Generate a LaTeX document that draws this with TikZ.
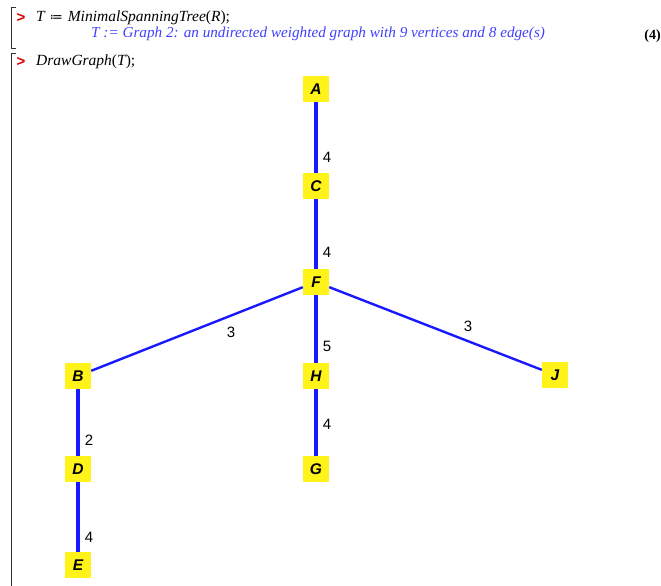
\documentclass[tikz,border=0pt]{standalone}
\usepackage{fontspec}
\setmainfont{Liberation Serif}
\setsansfont{Liberation Sans}
\newfontfamily\symfont{DejaVu Sans}
\newcommand{\up}[1]{{\upshape #1}}
\begin{document}
\begin{tikzpicture}[x=1pt,y=-1pt,
  vtx/.style={fill=yellow!90!white, minimum width=26pt, minimum height=26pt, inner sep=0pt,
     font=\sffamily\bfseries\itshape\fontsize{15.5}{15.5}\selectfont},
  edge/.style={draw=blue!90!white, line width=4pt},
  dedge/.style={draw=blue!90!white, line width=2.4pt},
  wlab/.style={font=\sffamily\fontsize{15}{15}\selectfont, inner sep=0pt},
  prompt/.style={font=\sffamily\bfseries\fontsize{15}{15}\selectfont, text=red!85!black, inner sep=0pt},
  maple/.style={font=\itshape\fontsize{15.5}{15.5}\selectfont, inner sep=0pt, anchor=west},
  mapleout/.style={font=\itshape\fontsize{15.2}{15.2}\selectfont, inner sep=0pt, anchor=west, text=blue!75!white},
  brk/.style={draw=black!80, line width=0.8pt}]
\useasboundingbox (0,0) rectangle (661,586);
% brackets
\draw[brk] (16,7) -- (11,7) -- (11,48) -- (16,48);
\draw[brk] (16,53) -- (11,53) -- (11,586);
% input/output text
\node[prompt] (p1) at (21,18) {>};
\node[maple] (in1) at (36,18) {T\hspace{5pt}{\symfont\fontsize{13}{13}\selectfont ≔}\hspace{5pt}MinimalSpanningTree\up{(}R\up{);}};
\node[mapleout] (out1) at (91,34) {T := Graph 2: an undirected weighted graph with 9 vertices and 8 edge(s)};
\node[font=\bfseries\fontsize{14}{14}\selectfont, inner sep=0pt, anchor=east] (eq4) at (661,36) {(4)};
\node[prompt] (p2) at (21,62) {>};
\node[maple] (in2) at (36,62) {DrawGraph\up{(}T\up{);}};
% vertices
\node[vtx] (A) at (316,89) {A};
\node[vtx] (C) at (316,186) {C};
\node[vtx] (F) at (316,282) {F};
\node[vtx] (B) at (78,376) {B};
\node[vtx] (H) at (316,376) {H};
\node[vtx] (J) at (555,375) {J};
\node[vtx] (D) at (78,469) {D};
\node[vtx] (G) at (316,469) {G};
\node[vtx] (E) at (78,565) {E};
% edges
\draw[edge] (A) -- (C);
\draw[edge] (C) -- (F);
\draw[edge] (F) -- (H);
\draw[edge] (H) -- (G);
\draw[edge] (B) -- (D);
\draw[edge] (D) -- (E);
\draw[dedge] (F) -- (B);
\draw[dedge] (F) -- (J);
% weights
\node[wlab] (wAC) at (327,157) {4};
\node[wlab] (wCF) at (327,252) {4};
\node[wlab] (wFB) at (231,332) {3};
\node[wlab] (wFJ) at (468,326) {3};
\node[wlab] (wFH) at (327,346) {5};
\node[wlab] (wHG) at (327,424) {4};
\node[wlab] (wBD) at (89,440) {2};
\node[wlab] (wDE) at (89,537) {4};
\end{tikzpicture}
\end{document}
